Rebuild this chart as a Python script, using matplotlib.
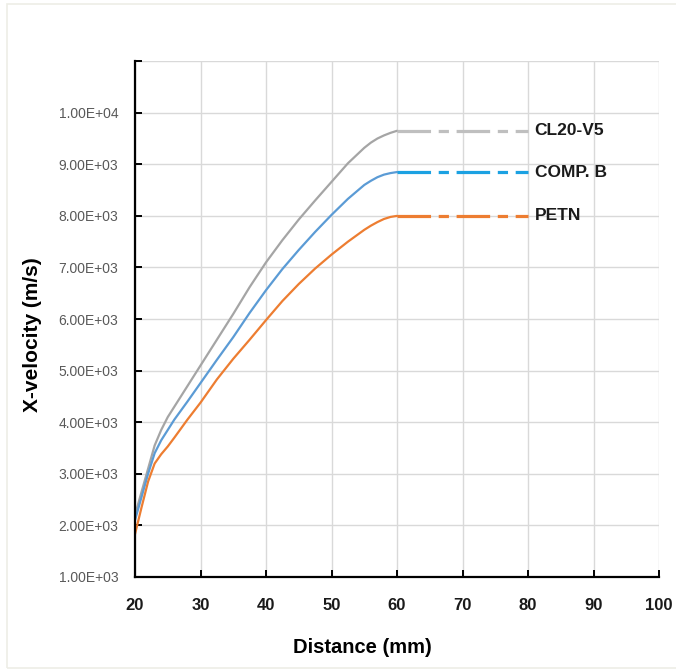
import numpy as np
import matplotlib.pyplot as plt
from matplotlib.patches import Rectangle

# distance (mm) and x-velocity (m/s)
dist = [20, 21, 22, 23, 24, 25, 26, 28, 30, 32.5, 35, 37.5, 40, 42.5, 45, 47.5, 50, 52.5,
        55, 56, 57, 58, 59, 60]
cl20 = [2200, 2650, 3100, 3550, 3850, 4100, 4300, 4700, 5100, 5600, 6100, 6620, 7100, 7530,
        7930, 8300, 8660, 9020, 9320, 9420, 9500, 9560, 9610, 9650]
compb = [2100, 2550, 3000, 3400, 3650, 3850, 4050, 4400, 4760, 5210, 5650, 6120, 6560, 6970,
         7340, 7690, 8020, 8330, 8600, 8680, 8750, 8800, 8830, 8850]
petn = [1830, 2350, 2850, 3200, 3380, 3530, 3700, 4050, 4380, 4830, 5230, 5600, 5980, 6350,
        6680, 6980, 7250, 7500, 7730, 7810, 7880, 7940, 7980, 8000]

# constant plateau beyond 60 mm
ext_x = [60, 80]

names = ["CL20-V5", "COMP. B", "PETN"]
series = [cl20, compb, petn]
line_colors = ["#A5A5A5", "#5B9BD5", "#ED7D31"]
dash_colors = ["#BFBFBF", "#1BA1E2", "#ED7D31"]

x_ticks = [20, 30, 40, 50, 60, 70, 80, 90, 100]
y_ticks = [1000, 2000, 3000, 4000, 5000, 6000, 7000, 8000, 9000, 10000, 11000]
y_labels = ["1.00E+03", "2.00E+03", "3.00E+03", "4.00E+03", "5.00E+03",
            "6.00E+03", "7.00E+03", "8.00E+03", "9.00E+03", "1.00E+04", ""]

plt.rcParams["font.family"] = ["Liberation Sans", "DejaVu Sans"]

fig = plt.figure(figsize=(6.76, 6.72), dpi=100)
ax = fig.add_axes([0.1997, 0.1414, 0.7753, 0.7676])

# light outer frame
fig.patches.append(Rectangle((0.011, 0.006), 1.2, 0.988, transform=fig.transFigure,
                             fill=False, edgecolor="#EDEDE6", linewidth=1.2))

for name, ys, lc, dc in zip(names, series, line_colors, dash_colors):
    ax.plot(dist, ys, color=lc, lw=1.6, solid_capstyle="round", solid_joinstyle="round")
    ax.plot(ext_x, [ys[-1], ys[-1]], color=dc, lw=2.3,
            linestyle=(0, (10.5, 2.4, 3.2, 2.4)))
    ax.text(81.0, ys[-1], name, fontsize=12.5, fontweight="bold",
            va="center", ha="left", color="#1a1a1a")

ax.set_xlim(20, 100)
ax.set_ylim(1000, 11000)
ax.set_xticks(x_ticks)
ax.set_yticks(y_ticks)
ax.set_yticklabels(y_labels)
ax.grid(True, color="#D9D9D9", lw=1.0)
ax.set_axisbelow(True)

for s in ["top", "right"]:
    ax.spines[s].set_visible(False)
for s in ["left", "bottom"]:
    ax.spines[s].set_linewidth(1.6)
    ax.spines[s].set_color("black")

ax.tick_params(axis="x", direction="in", length=5, width=1.4, pad=15,
               labelsize=12, labelcolor="#1a1a1a")
ax.tick_params(axis="y", direction="in", length=5, width=1.4, pad=12,
               labelsize=10, labelcolor="#595959")
for lab in ax.get_xticklabels():
    lab.set_fontweight("bold")

ax.set_xlabel("Distance (mm)", fontsize=14.5, fontweight="bold")
ax.set_ylabel("X-velocity (m/s)", fontsize=15, fontweight="bold")
ax.xaxis.set_label_coords(0.433, -0.119)
ax.yaxis.set_label_coords(-0.177, 0.469)

fig.savefig("out.png", dpi=100)
